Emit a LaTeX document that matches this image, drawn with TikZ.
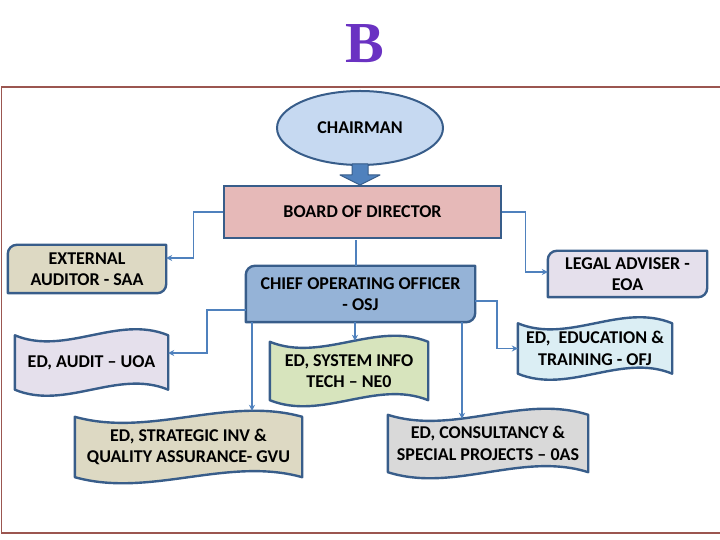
\documentclass[tikz,border=0pt]{standalone}
\usepackage{fontspec}
\setmainfont{Carlito}
\newfontfamily\letterfont{Liberation Serif}
\usepackage{tikz}
\usetikzlibrary{arrows.meta,positioning,shapes.geometric,calc,backgrounds}

\definecolor{edgeblue}{HTML}{385D8A}
\definecolor{linkblue}{HTML}{4F81BD}
\definecolor{framered}{HTML}{9B5650}
\definecolor{letterpurple}{HTML}{6A32C2}
\definecolor{chairfill}{HTML}{C6D9F1}
\definecolor{boardfill}{HTML}{E6B9B8}
\definecolor{coofill}{HTML}{95B3D7}
\definecolor{tanfill}{HTML}{DDD9C3}
\definecolor{lilacfill}{HTML}{E5E0EC}
\definecolor{greenfill}{HTML}{D7E4BD}
\definecolor{skyfill}{HTML}{DBEEF4}
\definecolor{greyfill}{HTML}{D9D9D9}

% box with rounded top-left and bottom-right corners, drawn behind a node
\newcommand{\diagbg}[2]{%
  \draw[boxline, fill=#2] (#1.south west) -- ([yshift=-9pt]#1.north west)
    arc[start angle=180, end angle=90, radius=9pt] -- (#1.north east)
    -- ([yshift=9pt]#1.south east)
    arc[start angle=0, end angle=-90, radius=9pt] -- cycle;}
% wavy banner drawn behind a node
\newcommand{\wavebg}[2]{%
  \draw[boxline, fill=#2] (#1.north west)
    .. controls ($(#1.north west)!0.33!(#1.north east)+(0,-21)$)
       and ($(#1.north west)!0.67!(#1.north east)+(0,21)$) .. (#1.north east)
    -- (#1.south east)
    .. controls ($(#1.south west)!0.67!(#1.south east)+(0,21)$)
       and ($(#1.south west)!0.33!(#1.south east)+(0,-21)$) .. (#1.south west)
    -- cycle;}

\begin{document}
\begin{tikzpicture}[
  x=1pt, y=1pt,
  label/.style={align=center, inner sep=0pt, font=\bfseries\fontsize{18}{21.5}\selectfont},
  boxline/.style={draw=edgeblue, line width=2.4pt, line join=round},
  conn/.style={draw=linkblue, line width=1.5pt, -{Stealth[length=6pt, width=6pt]}},
  link/.style={draw=linkblue, line width=1.8pt},
  frameline/.style={draw=framered, line width=1.4pt}
]
\useasboundingbox (0,0) rectangle (720,540);

\draw[frameline] (720,453) -- (1.5,453) -- (1.5,7) -- (720,7);
\node[font=\letterfont\bfseries\fontsize{58}{58}\selectfont, text=letterpurple] (letter) at (365,496) {B};

\node[label, ellipse, draw=edgeblue, line width=2pt, fill=chairfill,
  minimum width=166pt, minimum height=74pt] (chair) at (360,412) {CHAIRMAN};
\node[label, rectangle, draw=edgeblue, line width=2.6pt, fill=boardfill,
  minimum width=277pt, minimum height=52pt] (board) at (362.5,328) {BOARD OF DIRECTOR};
\draw[draw=edgeblue, fill=linkblue, line width=1pt, line join=round]
  ($(chair.south)+(-8,2)$) -- ++(16,0) -- ++(0,-11) -- ++(12,0)
  -- ++(-20,-10) -- ++(-20,10) -- ++(12,0) -- cycle;

\node[label, minimum width=158pt, minimum height=48pt] (ext) at (87,271) {EXTERNAL\\AUDITOR - SAA};
\node[label, minimum width=229pt, minimum height=56pt] (coo) at (360.5,246) {CHIEF OPERATING OFFICER\\- OSJ};
\node[label, minimum width=159pt, minimum height=46pt] (legal) at (627.5,266) {LEGAL ADVISER -\\EOA};
\node[label, minimum width=153pt, minimum height=54pt] (audit) at (91.5,177.5) {ED, AUDIT -- UOA};
\node[label, minimum width=158pt, minimum height=58pt] (sysinfo) at (349,169) {ED, SYSTEM INFO\\TECH -- NE0};
\node[label, minimum width=154pt, minimum height=50pt] (edu) at (595,191.5) {ED,\ \ EDUCATION \&\\TRAINING - OFJ};
\node[label, minimum width=227pt, minimum height=60pt] (strat) at (188.5,93) {ED, STRATEGIC INV \&\\QUALITY ASSURANCE- GVU};
\node[label, minimum width=200pt, minimum height=57pt] (consult) at (488,96.5) {ED, CONSULTANCY \&\\SPECIAL PROJECTS -- 0AS};

\begin{scope}[on background layer]
  \diagbg{ext}{tanfill}
  \diagbg{coo}{coofill}
  \diagbg{legal}{lilacfill}
  \wavebg{audit}{lilacfill}
  \wavebg{sysinfo}{greenfill}
  \wavebg{edu}{skyfill}
  \wavebg{strat}{tanfill}
  \wavebg{consult}{greyfill}
\end{scope}

\draw[conn] (board.west) -- ++(-29,0) |- ($(ext.east)+(0,11)$);
\draw[conn] (board.east) -- ++(23,0) |- ($(legal.west)+(0,2)$);
\draw[link] ($(board.south)+(-6.5,-1)$) -- ($(coo.north)+(-4.5,0)$);
\draw[conn] ($(coo.west)+(0,-16)$) -- ++(-39,0) |- ($(audit.east)+(0,9.5)$);
\draw[conn] ($(coo.east)+(0,-7)$) -- ++(22,0) |- (edu.west);
\draw[conn] ($(coo.south)+(-5.5,0)$) -- ($(sysinfo.north)+(6,1)$);
\draw[conn] ($(coo.south)+(-108.5,0)$) -- ($(strat.north)+(63.5,6)$);
\draw[conn] ($(coo.south)+(101.5,0)$) -- ($(consult.north)+(-26,-4)$);
\end{tikzpicture}
\end{document}
